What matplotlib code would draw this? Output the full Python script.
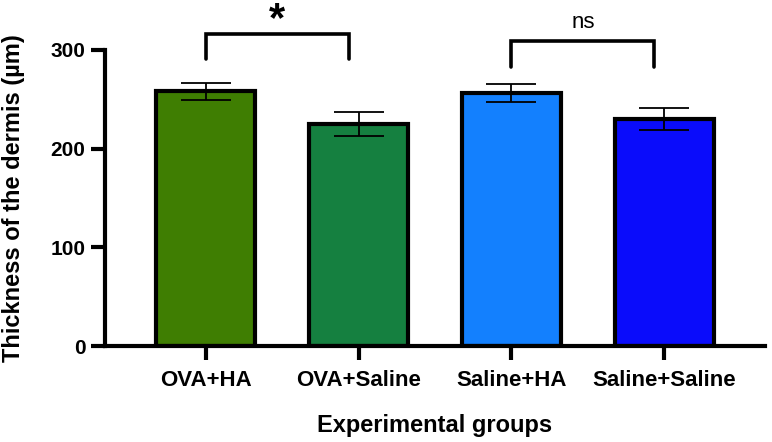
import matplotlib
matplotlib.use("Agg")
import matplotlib.pyplot as plt

categories = ["OVA+HA", "OVA+Saline", "Saline+HA", "Saline+Saline"]
means = [258, 225, 256, 230]
errors = [8.5, 12, 9, 11]
colors = ["#3f7e02", "#158040", "#1380fe", "#0a0cfb"]
yticks = [0, 100, 200, 300]
sig_pairs = [(0, 1, "*"), (2, 3, "ns")]

plt.rcParams['font.family'] = ['Liberation Sans', 'DejaVu Sans']

fig = plt.figure(figsize=(7.72, 4.42), dpi=100)
ax = fig.add_axes([0.136, 0.217, 0.855, 0.670])

x = list(range(len(categories)))
ax.bar(x, means, width=0.65, color=colors, edgecolor="black", linewidth=3.0, zorder=2)
ax.errorbar(x, means, yerr=errors, fmt="none", ecolor="black", elinewidth=1.3,
            capsize=18, capthick=1.3, zorder=3)

ax.set_xlim(-0.66, 3.66)
ax.set_ylim(0, 300)
ax.set_yticks(yticks)
ax.set_xticks(x)
ax.set_xticklabels(categories, fontsize=16, fontweight="bold")
ax.set_yticklabels([str(t) for t in yticks], fontsize=15, fontweight="bold")

for s in ["top", "right"]:
    ax.spines[s].set_visible(False)
for s in ["left", "bottom"]:
    ax.spines[s].set_linewidth(3.0)
ax.tick_params(axis="y", length=10, width=3.0, pad=4)
ax.tick_params(axis="x", length=10, width=3.0, pad=7)

ax.set_ylabel("Thickness of the dermis (µm)", fontsize=17, fontweight="bold")
ax.set_xlabel("Experimental groups", fontsize=17, fontweight="bold")
ax.yaxis.set_label_coords(-0.121, 0.5)
ax.xaxis.set_label_coords(0.5, -0.228)
ax.xaxis.label.set_va("top")

# significance brackets
bracket_specs = [(316, 291, 338), (309, 283, 328)]
for (i, j, txt), (ytop, yleg, ytxt) in zip(sig_pairs, bracket_specs):
    x0 = i - 0.0
    x1 = j - 0.065
    ax.plot([x0, x0, x1, x1], [yleg, ytop, ytop, yleg], color="black", lw=2.6,
            clip_on=False, solid_capstyle="round", solid_joinstyle="miter")
    if txt == "*":
        ax.text((x0 + x1) / 2, ytxt - 8, txt, ha="center", va="center", fontsize=30,
                fontweight="bold", clip_on=False)
    else:
        ax.text((x0 + x1) / 2, ytxt, txt, ha="center", va="center", fontsize=16,
                clip_on=False)

fig.savefig("out.png", dpi=100)
